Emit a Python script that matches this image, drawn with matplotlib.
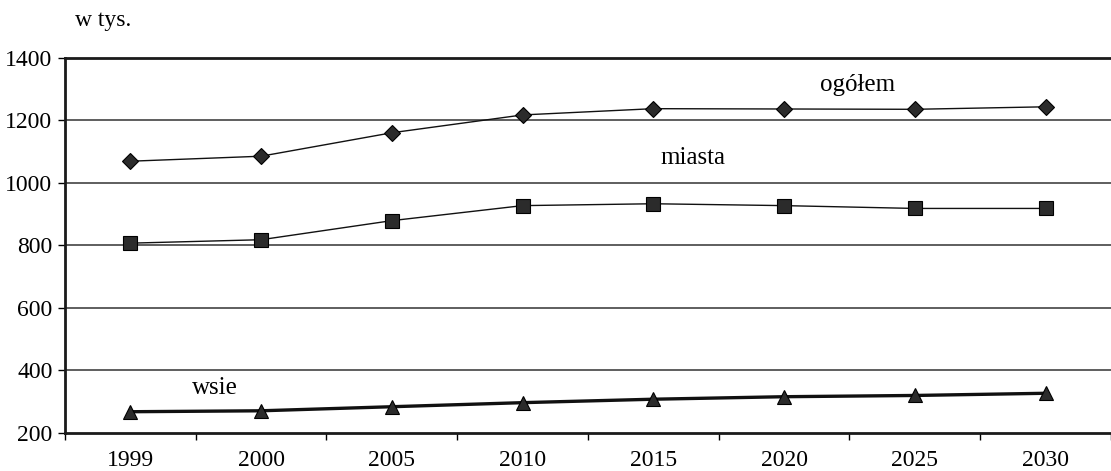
import matplotlib
matplotlib.use("Agg")
import matplotlib.pyplot as plt

years = ["1999", "2000", "2005", "2010", "2015", "2020", "2025", "2030"]
ogolem = [1069, 1085, 1160, 1217, 1237, 1236, 1235, 1243]
miasta = [807, 818, 879, 927, 933, 927, 918, 918]
wsie = [268, 271, 284, 297, 308, 316, 320, 327]
y_ticks = [200, 400, 600, 800, 1000, 1200, 1400]

plt.rcParams['font.family'] = ['Liberation Serif', 'DejaVu Serif']

fig = plt.figure(figsize=(11.11, 4.71), dpi=100)
ax = fig.add_axes([0.0585, 0.0807, 0.9415, 0.7968])

x = list(range(len(years)))
ax.plot(x, ogolem, color='#111111', lw=1.0, marker='D', ms=8.2,
        mfc='#2b2b2b', mec='black', mew=0.8, zorder=3)
ax.plot(x, miasta, color='#111111', lw=1.0, marker='s', ms=10.5,
        mfc='#2b2b2b', mec='black', mew=0.8, zorder=3)
ax.plot(x, wsie, color='#111111', lw=2.4, marker='^', ms=10.5,
        mfc='#2b2b2b', mec='black', mew=0.8, zorder=3)

ax.set_xlim(-0.5, 7.42)
ax.set_ylim(200, 1400)
ax.set_yticks(y_ticks)
ax.set_yticklabels([str(v) for v in y_ticks])
ax.set_xticks(x)
ax.set_xticklabels(years)
ax.set_xticks([i + 0.5 for i in range(-1, len(years))], minor=True)

ax.tick_params(axis='x', which='major', length=0, pad=12, labelsize=17)
ax.tick_params(axis='x', which='minor', length=5, width=1, direction='out')
ax.tick_params(axis='y', length=5, width=1, direction='out', pad=4, labelsize=17)

for v in y_ticks[1:-1]:
    ax.axhline(v, color='#333333', lw=1.1, zorder=1)

ax.spines['right'].set_visible(False)
for s in ['top', 'bottom', 'left']:
    ax.spines[s].set_linewidth(2.0)
    ax.spines[s].set_color('#1a1a1a')

ax.text(5.56, 1313, "ogółem", fontsize=18, ha='center', va='center')
ax.text(4.30, 1079, "miasta", fontsize=18, ha='center', va='center')
ax.text(0.65, 344, "wsie", fontsize=18, ha='center', va='center')

fig.text(0.0675, 0.9575, "w tys.", fontsize=17, ha='left', va='center')

fig.savefig("out.png", dpi=100, facecolor='white')
